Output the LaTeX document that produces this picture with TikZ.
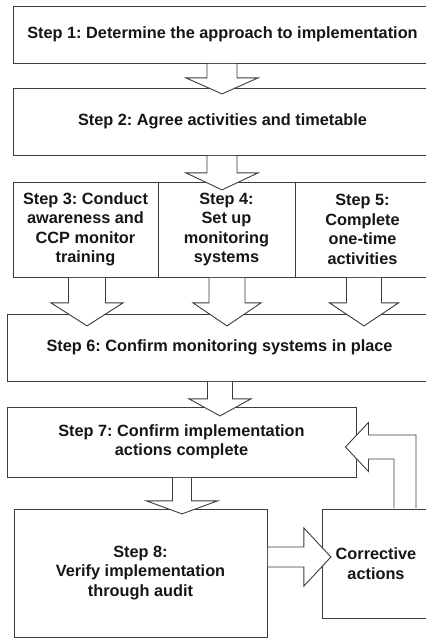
\documentclass[tikz,border=0pt]{standalone}
\usepackage{fontspec}
\setmainfont{Liberation Sans}
\usetikzlibrary{calc}

\definecolor{linec}{HTML}{3C3C3C}
\definecolor{textc}{HTML}{161616}

% Block arrow pointing down from the bottom edge of node #1, on the axis of coordinate #2:
% #3 half shaft width, #4 shaft length, #5 half head width, #6 head length
\newcommand\blockdown[6]{%
  \draw[blockarrow] ($(#2 |- #1.south)+(-#3,0.45)$) -- ++(0,#4) -- ++({-(#5-#3)},0)
    -- ++({#5},{#6}) -- ++({#5},{-#6}) -- ++({-(#5-#3)},0) -- ++(0,{-#4});
}

\begin{document}
\frenchspacing
\begin{tikzpicture}[x=1pt,y=-1pt,
  box/.style={draw=linec, line width=0.9pt, fill=white, inner sep=0pt,
    align=center, text=textc, font=\fontsize{16.3}{19.5}\selectfont\bfseries},
  blockarrow/.style={draw=linec, line width=0.9pt, fill=white, line join=miter}]

\useasboundingbox (0,0) rectangle (426,639);
\clip (0,0) rectangle (426,639);

% process steps
\node[box, minimum width=419pt, minimum height=57pt] (s1) at (222.5,34.5)
  {Step 1: Determine the approach to implementation};
\node[box, minimum width=419pt, minimum height=67pt] (s2) at (222.5,121.5)
  {Step 2: Agree activities and timetable};
\node[box, minimum width=145pt, minimum height=95pt] (s3) at (85.5,229.5)
  {Step 3: Conduct\\awareness and\\CCP monitor\\training};
\node[box, minimum width=137pt, minimum height=95pt] (s4) at (226.5,229.5)
  {Step 4:\\Set up\\monitoring\\systems};
\node[box, minimum width=135pt, minimum height=95pt] (s5) at (362.5,229.5)
  {Step 5:\\Complete\\one-time\\activities};
\node[box, minimum width=425pt, minimum height=67pt] (s6) at (219.5,347.5)
  {Step 6: Confirm monitoring systems in place};
\node[box, minimum width=349pt, minimum height=70pt] (s7) at (181.5,442)
  {Step 7: Confirm implementation\\actions complete};
\node[box, minimum width=253pt, minimum height=128pt] (s8) at (140.5,573)
  {Step 8:\\Verify implementation\\through audit};
\node[box, minimum width=108pt, minimum height=109pt] (ca) at (376,563.5)
  {Corrective\\actions};

% arrow axes
\coordinate (ax12) at (222,0);
\coordinate (ax3) at (87,0);
\coordinate (ax4) at (227,0);
\coordinate (ax5) at (364,0);
\coordinate (ax6) at (220,0);
\coordinate (ax7) at (182,0);
\coordinate (ax8) at (0,557);
\coordinate (fb) at (405,447);

% downward flow
\blockdown{s1}{ax12}{15}{14}{36}{16}
\blockdown{s2}{ax12}{15}{17}{36}{17}
\blockdown{s3}{ax3}{18.5}{25}{36}{23}
\blockdown{s4}{ax4}{18}{25}{34}{23}
\blockdown{s5}{ax5}{17.5}{25}{34.5}{23}
\blockdown{s6}{ax6}{12.5}{17}{31}{17}
\blockdown{s7}{ax7}{9.5}{23}{35.5}{13}

% audit to corrective actions
\draw[blockarrow] ($(s8.east |- ax8)+(0.45,-10)$) -- ++(36,0) -- ++(0,-19)
  -- ++(27,29) -- ++(-27,29) -- ++(0,-19) -- ++(-36,0);

% corrective actions back to step 7
\draw[blockarrow] ($(fb |- ca.north)+(11,-0.45)$) -- ($(fb)+(11,-12)$)
  -- ($(s7.east |- fb)+(12,-12)$) -- ($(s7.east |- fb)+(12,-24.5)$)
  -- ($(s7.east |- fb)+(-11,0)$) -- ($(s7.east |- fb)+(12,24.5)$)
  -- ($(s7.east |- fb)+(12,12)$) -- ($(fb)+(-11,12)$)
  -- ($(fb |- ca.north)+(-11,-0.45)$);

\end{tikzpicture}
\end{document}
